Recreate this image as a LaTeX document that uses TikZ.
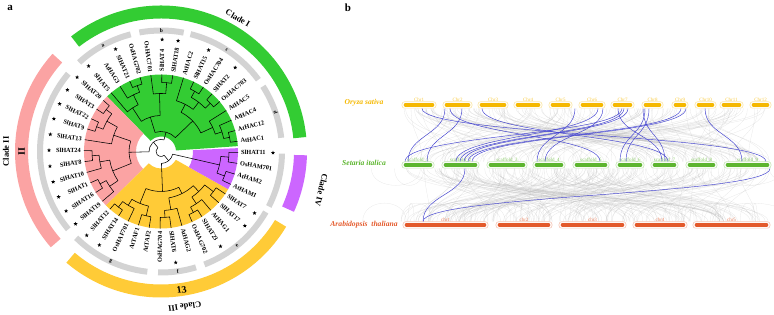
\documentclass[tikz,border=0pt]{standalone}
\usepackage{fontspec}
\setmainfont{Liberation Serif}
\usepackage{tikz}
\usetikzlibrary{shapes.geometric}

\definecolor{cladeone}{HTML}{33CC33}
\definecolor{cladetwo}{HTML}{FBA3A3}
\definecolor{cladethree}{HTML}{FFCB37}
\definecolor{cladefour}{HTML}{CC66FF}
\definecolor{ringgray}{HTML}{D3D3D3}
\definecolor{osacol}{HTML}{F5B800}
\definecolor{sitcol}{HTML}{5DB52F}
\definecolor{athcol}{HTML}{E3592B}
\definecolor{linkblue}{HTML}{4040D0}

% annular sector: colour, inner r, outer r, start angle, end angle
\newcommand{\ringseg}[5]{\fill[#1] (#4:#2) arc[start angle=#4, end angle=#5, radius=#2] -- (#5:#3) arc[start angle=#5, end angle=#4, radius=#3] -- cycle;}
% tree join: new node, child, child, radius
\newcommand{\tjoin}[4]{%
  \edef\tjA{\csname ta-#2\endcsname}\edef\tjB{\csname ta-#3\endcsname}%
  \edef\tjRA{\csname tr-#2\endcsname}\edef\tjRB{\csname tr-#3\endcsname}%
  \pgfmathsetmacro\tjM{(\tjA+\tjB)/2}%
  \expandafter\xdef\csname ta-#1\endcsname{\tjM}%
  \expandafter\xdef\csname tr-#1\endcsname{#4}%
  \draw[treeline] (\tjA:\tjRA) -- (\tjA:#4) arc[start angle=\tjA, end angle=\tjB, radius=#4] -- (\tjB:\tjRB);}
% chromosome: x1, x2, y, colour, label, name
\newcommand{\chrom}[6]{%
  \draw[#4!35, line width=0.6pt, rounded corners=2.5pt, fill=white] (#1,#3-3.2) rectangle (#2,#3+3.2);
  \draw[#4, line width=3.6pt, line cap=round] (#1+3.5,#3) -- (#2-3.5,#3);
  \node[chrlab, text=#4!75] (#6) at ({(#1+#2)/2},#3+5.2) {#5};}
\newcommand{\blink}[4]{\draw[bluelink] (#1,#2) .. controls (#1,{(#2+#4)/2}) and (#3,{(#2+#4)/2}) .. (#3,#4);}

\begin{document}
\begin{tikzpicture}[x=1pt,y=1pt,line join=round,
  treeline/.style={black,line width=0.55pt,line cap=round},
  leaflab/.style={font=\fontsize{6.3}{7}\selectfont\bfseries,inner sep=0pt},
  starmark/.style={star,star points=5,star point ratio=2.3,fill=black,draw=none,inner sep=0pt,minimum size=4.2pt},
  cladelab/.style={font=\fontsize{8.5}{9}\selectfont\bfseries,inner sep=0pt},
  seglab/.style={font=\fontsize{5.5}{6}\selectfont\bfseries,inner sep=0pt},
  chrlab/.style={font=\fontsize{5}{5}\selectfont,inner sep=0pt},
  splab/.style={font=\fontsize{7.6}{8}\selectfont\bfseries\itshape,inner sep=0pt},
  panlab/.style={font=\fontsize{11}{12}\selectfont\bfseries,inner sep=0pt},
  graylink/.style={draw=black!30,opacity=0.3,line width=0.3pt},
  bluelink/.style={draw=linkblue,line width=0.45pt}]
\useasboundingbox (0,0) rectangle (774,315);

\node[panlab] (pa) at (10,307) {a};
\node[panlab] (pb) at (348,307) {b};

%%% panel a: circular tree
\begin{scope}[shift={(161,163.5)}]
% clade sectors
\ringseg{cladeone}{15}{77}{4}{134.4}
\ringseg{cladetwo}{25}{77}{134.4}{224.4}
\ringseg{cladethree}{17}{77}{224.4}{330.7}
\ringseg{cladefour}{32}{77}{330.7}{362.5}
% gray ring
\ringseg{ringgray}{118}{124}{140}{220}
\ringseg{ringgray}{118}{124}{104.5}{132.6}
\ringseg{ringgray}{118}{124}{79.2}{100.3}
\ringseg{ringgray}{118}{124}{36.4}{75.9}
\ringseg{ringgray}{118}{124}{6.5}{32.6}
\ringseg{ringgray}{118}{124}{333}{359}
\ringseg{ringgray}{118}{124}{291}{330}
\ringseg{ringgray}{118}{124}{268.6}{286.8}
\ringseg{ringgray}{118}{124}{225.5}{263.5}
\node[seglab,rotate=28.6] (sa) at (118.6:121) {a};
\node[seglab,rotate=0] (sb) at (89.8:121) {b};
\node[seglab,rotate=-33] (sc) at (57:121) {c};
\node[seglab,rotate=-71.2] (sd) at (18.8:121) {d};
\node[seglab,rotate=39] (se) at (-51:121) {e};
\node[seglab,rotate=8] (sf) at (278:121) {f};
\node[seglab,rotate=-24.6] (sg) at (245.4:121) {g};
% clade arcs
\ringseg{cladeone}{133}{146}{5.7}{128}
\ringseg{cladetwo}{133}{146}{138}{221}
\ringseg{cladethree}{133}{146}{229.6}{329}
\ringseg{cladefour}{133}{146}{335.6}{358.5}
\node[cladelab,rotate=-30] (c1) at (60:154) {Clade I};
\node[cladelab,rotate=90] (c2) at (180:155) {Clade II};
\node[cladelab,rotate=90,font=\fontsize{10}{11}\selectfont\bfseries] (n2) at (180:139.5) {II};
\node[cladelab,rotate=188.7] (c3) at (278.7:157) {Clade III};
\node[cladelab,rotate=8.5,font=\fontsize{10}{11}\selectfont\bfseries] (n3) at (278.5:140) {13};
\node[cladelab,rotate=-103.5] (c4) at (-13.5:165) {Clade IV};
% leaves
\foreach \nm/\st [count=\i from 0] in {AtHAC1/0,AtHAC12/0,AtHAC4/0,AtHAC5/0,OsHAC703/0,SlHAT2/1,OsHAC704/0,SlHAT15/1,AtHAC2/0,SlHAT18/1,SlHAT4/1,OsHAC701/0,OsHAG702/0,SlHAT21/1,AtHAG3/0,SlHAT5/1,SlHAT20/1,SlHAT3/1,SlHAT22/1,SlHAT9/1,SlHAT13/1,SlHAT24/1,SlHAT8/1,SlHAT10/1,SlHAT1/1,SlHAT16/1,SlHAT19/1,SlHAT12/1,SlHAT14/1,OsHAF701/0,AtTAF1/0,AtTAF2/0,OsHAG704/0,SlHAT6/1,AtHAG2/0,OsHAG702/0,SlHAT23/1,AtHAG1/0,SlHAT17/1,SlHAT7/1,AtHAM1/0,AtHAM2/0,OsHAM701/0,SlHAT11/1}{
  \pgfmathsetmacro\ang{7.6+8.18*\i}
  \expandafter\xdef\csname ta-L\i\endcsname{\ang}
  \expandafter\xdef\csname tr-L\i\endcsname{77}
  \pgfmathtruncatemacro\side{(\i>10)&&(\i<33)}
  \ifnum\side=1
    \node[leaflab,anchor=east,rotate=\ang-180] (lab\i) at (\ang:80) {\nm};
  \else
    \node[leaflab,anchor=west,rotate=\ang] (lab\i) at (\ang:80) {\nm};
  \fi
  \ifnum\st=1 \node[starmark] (star\i) at (\ang:112) {}; \fi
}
% clade I
\tjoin{g1}{L0}{L1}{70}
\tjoin{g2}{g1}{L2}{64}
\tjoin{g3}{g2}{L3}{57}
\tjoin{g4}{L4}{L5}{69}
\tjoin{g5}{L6}{L7}{69}
\tjoin{g6}{g4}{g5}{62}
\tjoin{g7}{g6}{L8}{53}
\tjoin{g8}{g3}{g7}{44}
\tjoin{g9}{L9}{L10}{69}
\tjoin{g10}{g9}{L11}{58}
\tjoin{g11}{L12}{L13}{70}
\tjoin{g12}{g11}{L14}{63}
\tjoin{g13}{g12}{L15}{52}
\tjoin{g14}{g10}{g13}{36}
\tjoin{g15}{g8}{g14}{20}
% clade II
\tjoin{p1}{L16}{L17}{69}
\tjoin{p2}{L18}{L19}{69}
\tjoin{p3}{p1}{p2}{62}
\tjoin{p4}{p3}{L20}{50}
\tjoin{p5}{L21}{L22}{69}
\tjoin{p6}{p5}{L23}{62}
\tjoin{p7}{L24}{L25}{69}
\tjoin{p8}{p7}{L26}{62}
\tjoin{p9}{p6}{p8}{52}
\tjoin{p10}{p4}{p9}{32}
% clade III
\tjoin{y1}{L27}{L28}{70}
\tjoin{y2}{y1}{L29}{63}
\tjoin{y3}{L30}{L31}{66}
\tjoin{y4}{y2}{y3}{56}
\tjoin{y5}{L32}{L33}{66}
\tjoin{y6}{y5}{L34}{59}
\tjoin{y7}{L35}{L36}{69}
\tjoin{y8}{y7}{L37}{63}
\tjoin{y9}{L38}{L39}{66}
\tjoin{y10}{y8}{y9}{55}
\tjoin{y11}{y6}{y10}{47}
\tjoin{y12}{y4}{y11}{40}
% clade IV
\tjoin{u1}{L40}{L41}{68}
\tjoin{u2}{L42}{L43}{68}
\tjoin{u3}{u1}{u2}{60}
% root
\tjoin{r1}{g15}{p10}{12}
\tjoin{r2}{y12}{u3}{12}
\tjoin{root}{r1}{r2}{5}
\end{scope}

%%% panel b: synteny
\node[splab,text=osacol] (osa) at (364,212) {Oryza sativa};
\node[splab,text=sitcol] (sit) at (364,152) {Setaria italica};
\node[splab,text=athcol] (ath) at (364,90) {Arabidopsis\ \ thaliana};

% background links
\pgfmathsetseed{7}
\foreach \k in {1,...,160}{
  \pgfmathsetmacro\xa{404+366*rnd}
  \pgfmathsetmacro\xb{404+366*rnd}
  \draw[graylink] (\xa,206.5) .. controls (\xa,180) and (\xb,180) .. (\xb,153.5);
}
\foreach \k in {1,...,160}{
  \pgfmathsetmacro\xa{404+366*rnd}
  \pgfmathsetmacro\xb{404+366*rnd}
  \draw[graylink] (\xa,146.5) .. controls (\xa,120) and (\xb,120) .. (\xb,93.5);
}
\foreach \k in {1,...,45}{
  \pgfmathsetmacro\xa{404+366*rnd}
  \pgfmathsetmacro\xb{\xa+160*(rnd-0.5)}
  \draw[graylink] (\xa,146.5) .. controls (\xa,124) and (\xb,124) .. (\xb,146.5);
  \pgfmathsetmacro\xa{404+366*rnd}
  \pgfmathsetmacro\xb{\xa+160*(rnd-0.5)}
  \draw[graylink] (\xa,93.5) .. controls (\xa,118) and (\xb,118) .. (\xb,93.5);
}

% chromosomes
\foreach \xa/\xb/\lab [count=\c] in {402/436/Chr1,443/472/Chr2,478/508/Chr3,514/542/Chr4,549/572/Chr5,579/605/Chr6,611/634/Chr7,642/663/Chr8,672/688/Chr9,695/716/Chr10,720/743/Chr11,750/771/Chr12}
  {\chrom{\xa}{\xb}{210}{osacol}{\lab}{osa\c}}
\foreach \xa/\xb/\lab [count=\c] in {402/434/scaffold\_1,442/479/scaffold\_2,487/527/scaffold\_3,533/565/scaffold\_4,573/609/scaffold\_5,616/644/scaffold\_6,651/678/scaffold\_7,686/717/scaffold\_8,724/771/scaffold\_9}
  {\chrom{\xa}{\xb}{150}{sitcol}{\lab}{sit\c}}
\foreach \xa/\xb/\lab [count=\c] in {403/488/chr1,496/552/chr2,559/626/chr3,633/687/chr4,693/770/chr5}
  {\chrom{\xa}{\xb}{90}{athcol}{\lab}{ath\c}}

% gene pairs
\foreach \xa/\xb in {422/766,445/408,462/427,450/600,482/668,622/405,598/456,624/460,628/464,681/468,686/472,645/620,649/626,575/537,603/545,618/662,643/665,705/742}
  {\blink{\xa}{206.5}{\xb}{153.5}}
\blink{770}{146.5}{423}{93.5}
\blink{465}{146.5}{423}{93.5}
\end{tikzpicture}
\end{document}
